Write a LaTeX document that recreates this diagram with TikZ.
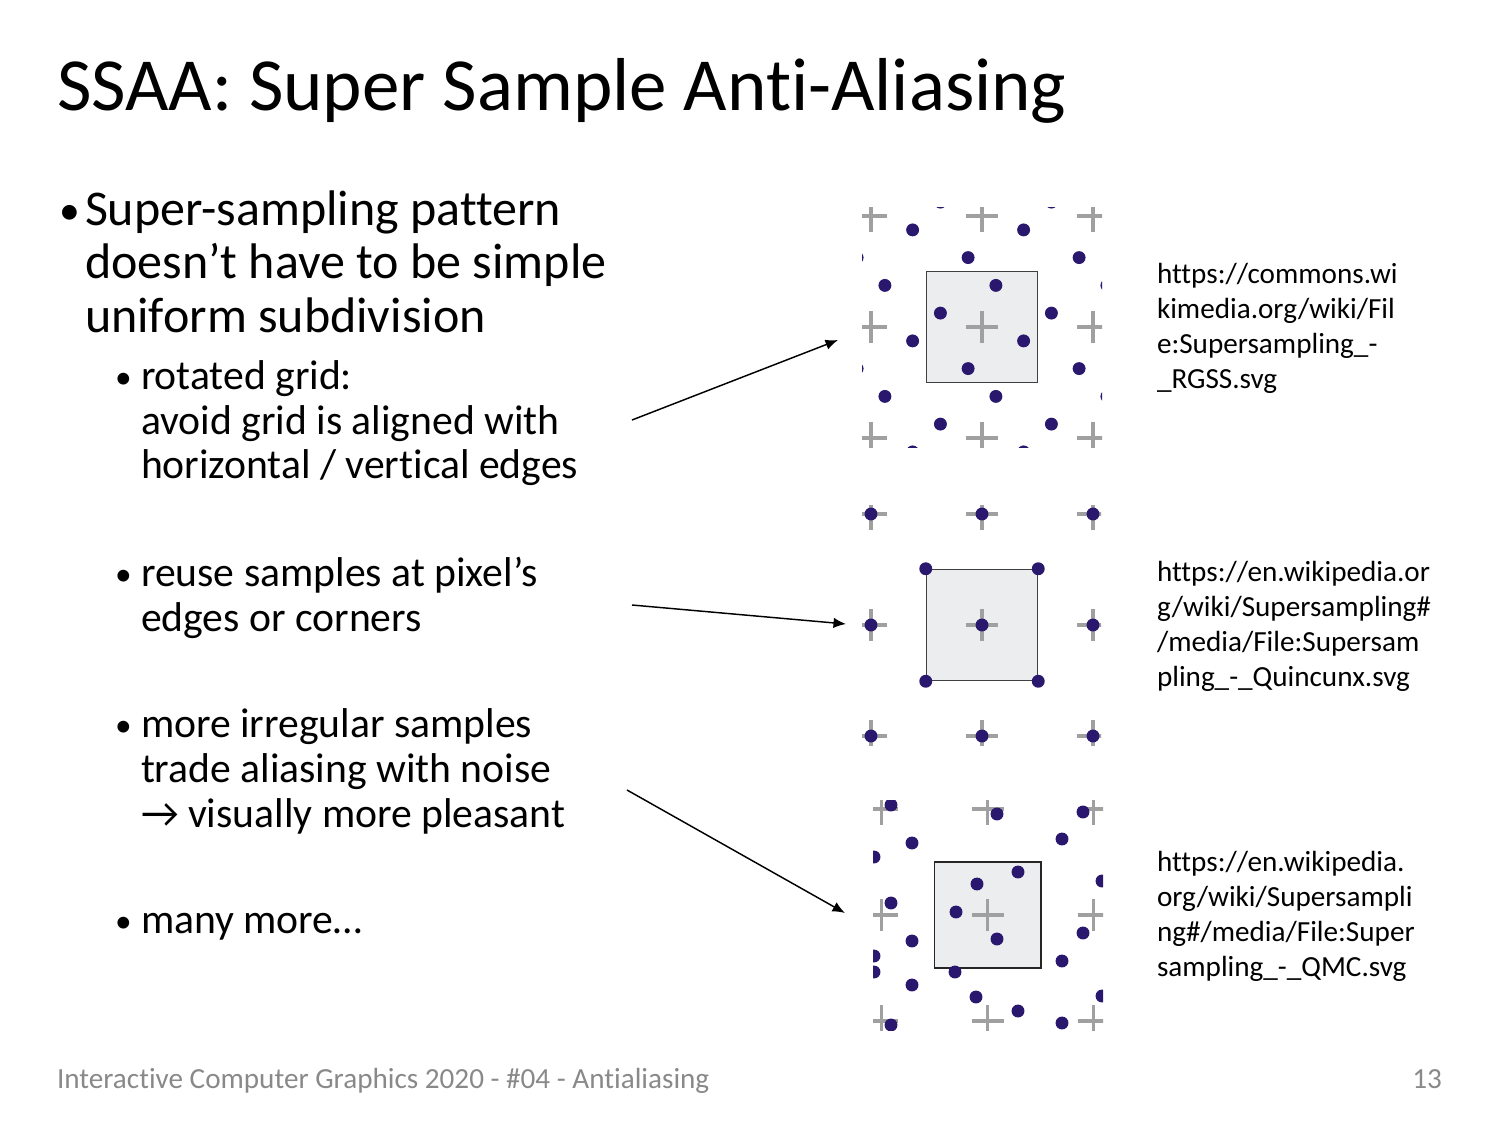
\documentclass[tikz,border=0pt]{standalone}
\usepackage{fontspec}
\setmainfont{Carlito}[Ligatures=NoCommon]
\usepackage{tikz}
\usetikzlibrary{arrows,arrows.meta,positioning}

\definecolor{sampblue}{RGB}{42,24,110}
\definecolor{crossgray}{RGB}{160,160,160}
\definecolor{pixfill}{RGB}{236,237,239}
\definecolor{footgray}{RGB}{137,137,137}

\begin{document}
\begin{tikzpicture}[x=0.48pt, y=-0.48pt,
	txt/.style={anchor=base west, inner sep=0pt, outer sep=0pt},
	head/.style={txt, font=\fontsize{36}{44}\selectfont},
	big/.style={txt, font=\fontsize{24}{28}\selectfont},
	small/.style={txt, font=\fontsize{20}{24}\selectfont},
	bigdot/.style={txt, font=\fontsize{20}{24}\selectfont},
	smalldot/.style={txt, font=\fontsize{16}{20}\selectfont},
	url/.style={txt, font=\fontsize{14}{17}\selectfont},
	foot/.style={txt, text=footgray, font=\fontsize{14}{17}\selectfont},
	pix/.style={draw=black!75, fill=pixfill, line width=0.6pt, inner sep=0pt},
	cross/.style={draw=crossgray, line width=1.7pt},
	samp/.style={fill=sampblue},
	pointer/.style={-{Latex[length=6pt,width=5pt]}, line width=0.7pt}]
	\useasboundingbox (0,0) rectangle (1500,1124);

	% title and bullets
	\node (title) [head] at (57,110) {SSAA: Super Sample Anti-Aliasing};

	\node (b1) [bigdot] at (59,224) {•};
	\node (b1a) [big] at (85,225) {Super-sampling pattern};
	\node (b1b) [big] at (85,278) {doesn’t have to be simple};
	\node (b1c) [big] at (85,332) {uniform subdivision};

	\node (s1) [smalldot] at (115,388) {•};
	\node (s1a) [small] at (141,389) {rotated grid:};
	\node (s1b) [small] at (141,434) {avoid grid is aligned with};
	\node (s1c) [small] at (141,478) {horizontal / vertical edges};

	\node (s2) [smalldot] at (115,585) {•};
	\node (s2a) [small] at (141,586) {reuse samples at pixel’s};
	\node (s2b) [small] at (141,631) {edges or corners};

	\node (s3) [smalldot] at (115,736) {•};
	\node (s3a) [small] at (141,737) {more irregular samples};
	\node (s3b) [small] at (141,782) {trade aliasing with noise};
	\node (s3c) [small] at (141,827) {→ visually more pleasant};

	\node (s4) [smalldot] at (115,932) {•};
	\node (s4a) [small] at (141,933) {many more…};

	% rotated grid
	\begin{scope}
		\clip (862,207) rectangle (1102,447);
		\node (rgss) [pix, minimum size=53.3pt] at (982,327) {};
		\foreach \i in {-1,0,1}
			\foreach \j in {-1,0,1}
				\draw [cross, shift={(982+111*\i,327+111*\j)}] (-16,0) -- (16,0) (0,-16) -- (0,16);
		\foreach \i in {-2,...,2}
			\foreach \j in {-2,...,2}
				\foreach \u/\v in {13.9/-41.6, -41.6/-13.9, 41.6/13.9, -13.9/41.6}
					\fill [samp] (982+111*\i+\u,327+111*\j+\v) circle (3.1pt);
	\end{scope}

	% quincunx
	\begin{scope}
		\clip (862,505) rectangle (1101,745);
		\node (quinc) [pix, minimum size=53.4pt] at (982,625) {};
		\foreach \i in {-1,0,1}
			\foreach \j in {-1,0,1} {
				\draw [cross, shift={(982+111*\i,625+111*\j)}] (-16,0) -- (16,0) (0,-16) -- (0,16);
				\fill [samp] (982+111*\i,625+111*\j) circle (3.1pt);
			}
		\foreach \c in {quinc.north west, quinc.north east, quinc.south west, quinc.south east}
			\fill [samp] (\c) circle (3.1pt);
	\end{scope}

	% quasi monte carlo
	\begin{scope}
		\clip (873,800) rectangle (1103,1030);
		\node (qmc) [pix, draw=black!85, line width=0.75pt, minimum size=51.1pt] at (987.5,915) {};
		\foreach \i in {-1,0,1}
			\foreach \j in {-1,0,1}
				\draw [cross, shift={(987.5+106*\i,915+106*\j)}] (-16,0) -- (16,0) (0,-16) -- (0,16);
		\foreach \p in {(891,805), (997,814), (1083,812), (912,843), (1062,839),
				(874,857), (1102,881), (1018,872), (977,884), (891,903), (956,912),
				(997,939), (1083,933), (912,941), (874,956), (874,972), (1062,961),
				(955,972), (912,985), (976,997), (1102,996), (1018,1011), (891,1025),
				(1062,1023)}
			\fill [samp] \p circle (3.1pt);
	\end{scope}

	% sources
	\node (u1a) [url] at (1157,283) {https://commons.wi};
	\node (u1b) [url] at (1157,318) {kimedia.org/wiki/Fil};
	\node (u1c) [url] at (1157,353) {e:Supersampling\_-};
	\node (u1d) [url] at (1157,388) {\_RGSS.svg};

	\node (u2a) [url] at (1157,581) {https://en.wikipedia.or};
	\node (u2b) [url] at (1157,616) {g/wiki/Supersampling\#};
	\node (u2c) [url] at (1157,651) {/media/File:Supersam};
	\node (u2d) [url] at (1157,686) {pling\_-\_Quincunx.svg};

	\node (u3a) [url] at (1157,871) {https://en.wikipedia.};
	\node (u3b) [url] at (1157,906) {org/wiki/Supersampli};
	\node (u3c) [url] at (1157,941) {ng\#/media/File:Super};
	\node (u3d) [url] at (1157,976) {sampling\_-\_QMC.svg};

	% pointers
	\coordinate (p1s) at (632,420);
	\coordinate (p1e) at (838,340);
	\coordinate (p2s) at (632,605);
	\coordinate (p2e) at (846,624);
	\coordinate (p3s) at (627,790);
	\coordinate (p3e) at (845,913);
	\draw [pointer] (p1s) -- (p1e);
	\draw [pointer] (p2s) -- (p2e);
	\draw [pointer] (p3s) -- (p3e);

	% footer
	\node (footer) [foot] at (57,1088) {Interactive Computer Graphics 2020 - \#04 - Antialiasing};
	\node (page) [foot, anchor=base east] at (1442,1088) {13};
\end{tikzpicture}
\end{document}
